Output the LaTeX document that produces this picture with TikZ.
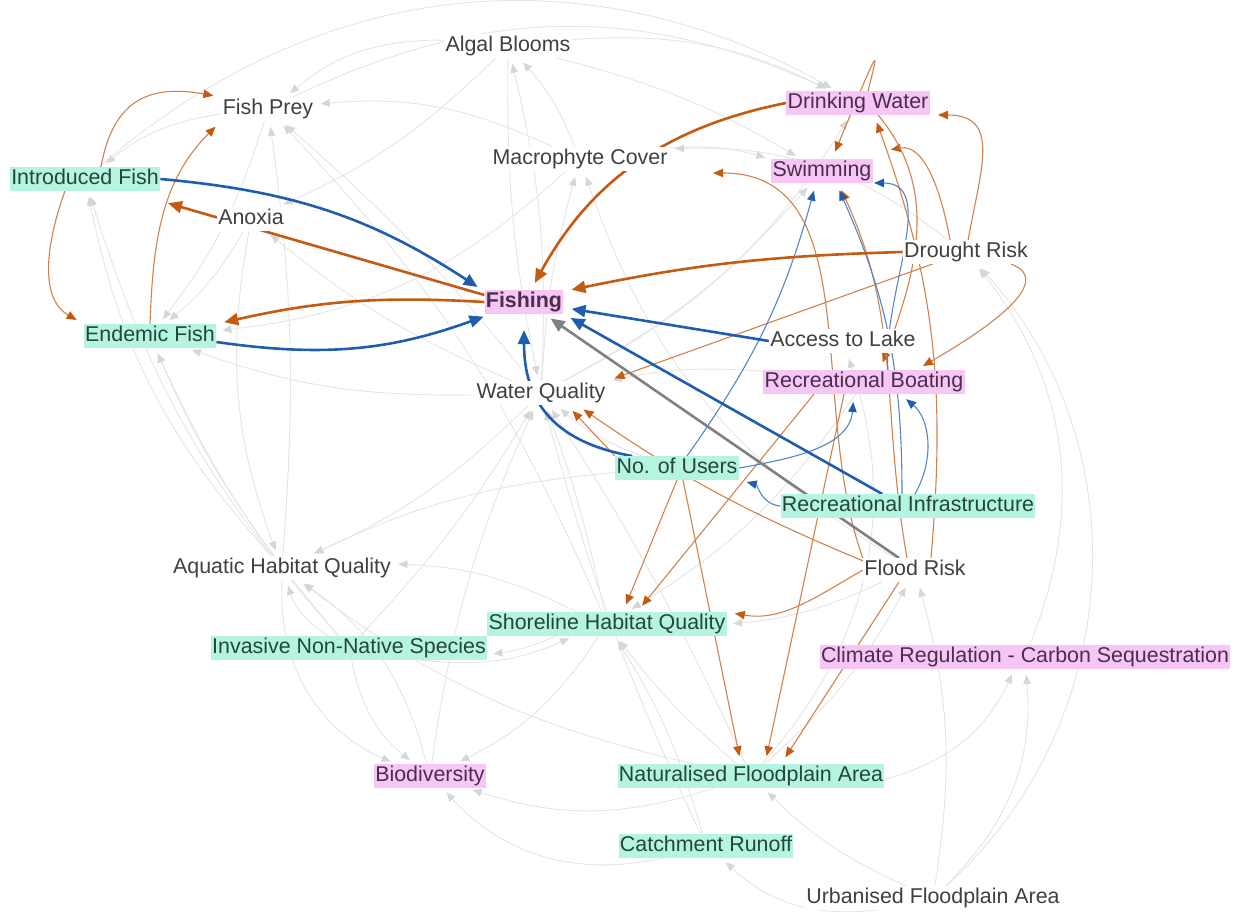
\documentclass[tikz,border=0pt]{standalone}
\usepackage{fontspec}
\setmainfont{Liberation Sans}
\usetikzlibrary{arrows.meta,backgrounds}

\definecolor{svcpink}{HTML}{F8C6F6}
\definecolor{mgmtgreen}{HTML}{B4F4E0}
\definecolor{labelgray}{HTML}{404040}
\definecolor{svctext}{HTML}{4A2F4A}
\definecolor{mgmttext}{HTML}{24463C}
\definecolor{linkorange}{HTML}{C55A11}
\definecolor{thinorange}{HTML}{D0824C}
\definecolor{linkblue}{HTML}{1F5EAE}
\definecolor{thinblue}{HTML}{5286C6}
\definecolor{linkgray}{HTML}{808080}
\definecolor{faintgray}{HTML}{E5E5E5}
\definecolor{faintarrow}{HTML}{D6D6D6}

\newcommand{\lblfont}{\fontsize{10.7}{12}\selectfont}

\begin{document}
\begin{tikzpicture}[x=0.5pt, y=-0.5pt,
  plainlbl/.style={font=\lblfont, text=labelgray, fill=white, inner xsep=0.6pt, inner ysep=0.8pt, text height=7.8pt, text depth=2.2pt},
  svclbl/.style={plainlbl, fill=svcpink, text=svctext},
  mgmtlbl/.style={plainlbl, fill=mgmtgreen, text=mgmttext},
  faint/.style={draw=faintgray, line width=0.45pt, -{Triangle[length=4.5pt,width=3.8pt,color=faintarrow]}, shorten >=3pt},
  thinor/.style={draw=thinorange, line width=0.55pt, -{Triangle[length=5pt,width=4.2pt,color=linkorange]}, shorten >=4pt},
  thickor/.style={draw=linkorange, line width=1.3pt, -{Triangle[length=7pt,width=6pt]}, shorten >=4pt},
  thinbl/.style={draw=thinblue, line width=0.55pt, -{Triangle[length=5pt,width=4.2pt,color=linkblue]}, shorten >=4pt},
  thickbl/.style={draw=linkblue, line width=1.3pt, -{Triangle[length=7pt,width=6pt]}, shorten >=4pt},
  thickgr/.style={draw=linkgray, line width=1.3pt, -{Triangle[length=7pt,width=6pt]}, shorten >=4pt}]

\useasboundingbox (0,0) rectangle (1245,914);

% Factors
\node[plainlbl] (algal) at (508,46) {Algal Blooms};
\node[plainlbl] (prey) at (268,109) {Fish Prey};
\node[svclbl] (drink) at (858,103) {Drinking Water};
\node[mgmtlbl] (introfish) at (85,179) {Introduced Fish};
\node[plainlbl] (macro) at (580,159) {Macrophyte Cover};
\node[svclbl] (swim) at (822,171) {Swimming};
\node[plainlbl] (anoxia) at (251,219) {Anoxia};
\node[plainlbl] (drought) at (966,252) {Drought Risk};
\node[svclbl, font=\lblfont\bfseries] (fishing) at (524,302) {Fishing};
\node[mgmtlbl] (endfish) at (150,336) {Endemic Fish};
\node[plainlbl] (access) at (843,341) {Access to Lake};
\node[svclbl] (boating) at (864,382) {Recreational Boating};
\node[plainlbl] (wq) at (541,393) {Water Quality};
\node[mgmtlbl] (users) at (677,468) {No. of Users};
\node[mgmtlbl] (infra) at (908,506) {Recreational Infrastructure};
\node[plainlbl] (aquatic) at (282,568) {Aquatic Habitat Quality};
\node[plainlbl] (flood) at (915,570) {Flood Risk};
\node[mgmtlbl] (shore) at (607,624) {Shoreline Habitat Quality};
\node[mgmtlbl] (invasive) at (349,648) {Invasive Non-Native Species};
\node[svclbl] (climate) at (1025,657) {Climate Regulation - Carbon Sequestration};
\node[svclbl] (biodiv) at (430,776) {Biodiversity};
\node[mgmtlbl] (natfp) at (751,776) {Naturalised Floodplain Area};
\node[mgmtlbl] (runoff) at (706,846) {Catchment Runoff};
\node[plainlbl] (urban) at (933,898) {Urbanised Floodplain Area};

\begin{scope}[on background layer]
% Background links
\draw[faint] (runoff) to[bend left=5] (wq);
\draw[faint] (runoff) to[bend right=8] (shore);
\draw[faint] (runoff) to[bend left=30] (biodiv);
\draw[faint] (urban) to[bend left=10] (natfp);
\draw[faint] (urban) to[bend left=25] (runoff);
\draw[faint] (urban) to[bend right=25] (climate);
\draw[faint] (urban) to[bend right=12] (flood);
\draw[faint] (urban) to[bend right=45] (drought);
\draw[faint] (natfp) to[bend right=10] (flood);
\draw[faint] (natfp) to[bend left=6] (shore);
\draw[faint] (natfp) to[bend right=4] (wq);
\draw[faint] (natfp) to[bend left=12] (aquatic);
\draw[faint] (natfp) to[bend left=18] (biodiv);
\draw[faint] (natfp) to[bend right=25] (climate);
\draw[faint] (natfp) to[bend right=30] (access);
\draw[faint] (shore) to[bend right=4] (wq);
\draw[faint] (shore) to[bend right=12] (aquatic);
\draw[faint] (shore) to[bend left=15] (biodiv);
\draw[faint] (shore) to[bend left=8] (invasive);
\draw[faint] (shore) to[bend right=10] (prey);
\draw[faint] (invasive) to[bend left=20] (aquatic);
\draw[faint] (invasive) to[bend right=20] (biodiv);
\draw[faint] (invasive) to[bend left=8] (endfish);
\draw[faint] (invasive) to[bend left=12] (introfish);
\draw[faint] (invasive) to[bend right=15] (shore);
\draw[faint] (invasive) to[bend right=6] (wq);
\draw[faint] (aquatic) to[bend left=6] (endfish);
\draw[faint] (aquatic) to[bend left=15] (introfish);
\draw[faint] (aquatic) to[bend right=35] (biodiv);
\draw[faint] (aquatic) to[bend right=6] (prey);
\draw[faint] (biodiv) to[bend right=20] (aquatic);
\draw[faint] (biodiv) to[bend left=8] (wq);
\draw[faint] (wq) to[bend left=10] (aquatic);
\draw[faint] (wq) to[bend right=8] (algal);
\draw[faint] (wq) to[bend left=6] (macro);
\draw[faint] (wq) to[bend right=5] (prey);
\draw[faint] (wq) to[bend left=8] (anoxia);
\draw[faint] (wq) to[bend right=10] (swim);
\draw[faint] (wq) to[bend right=15] (drink);
\draw[faint] (wq) to[bend left=10] (endfish);
\draw[faint] (algal) to[bend right=6] (wq);
\draw[faint] (algal) to[bend left=10] (anoxia);
\draw[faint] (algal) to[bend left=15] (drink);
\draw[faint] (algal) to[bend left=8] (swim);
\draw[faint] (algal) to[bend right=20] (prey);
\draw[faint] (macro) to[bend right=10] (algal);
\draw[faint] (macro) to[bend right=15] (prey);
\draw[faint] (macro) to[bend left=18] (endfish);
\draw[faint] (macro) to[bend left=10] (swim);
\draw[faint] (prey) to[bend right=15] (introfish);
\draw[faint] (prey) to[bend left=10] (endfish);
\draw[faint] (prey) to[bend left=25] (drink);
\draw[faint] (anoxia) to[bend left=10] (endfish);
\draw[faint] (anoxia) to[bend right=15] (aquatic);
\draw[faint] (users) to[bend left=10] (wq);
\draw[faint] (users) to[bend right=10] (aquatic);
\draw[faint] (boating) to[bend right=8] (wq);
\draw[faint] (boating) to[bend left=12] (shore);
\draw[faint] (climate) to[bend right=30] (drought);
\draw[faint] (flood) to[bend left=10] (shore);
\draw[faint] (flood) to[bend left=20] (macro);
\draw[faint] (drought) to[bend right=20] (macro);
\draw[faint] (introfish) to[bend left=35] (drink);

% Weak links
\draw[thinor] ([xshift=8pt]introfish.north) to[out=80, in=170, looseness=1.3] (prey.north west);
\draw[thinor] ([xshift=-10pt]introfish.south) to[out=250, in=150] (endfish.north west);
\draw[thinor] (endfish.north) to[out=88, in=225] (prey.south west);
\coordinate (spike) at (880,44);
\draw[thinor] ([xshift=5pt]drink.north) .. controls (spike) .. ([xshift=5pt]swim.north);
\draw[thinor] (drought.80) to[out=80, in=0, looseness=1.4] ([yshift=-6pt]drink.east);
\draw[thinor] ([xshift=-8pt]drought.north) to[out=100, in=10] ([xshift=5pt,yshift=4pt]swim.north east);
\draw[thinor] ([xshift=8pt]flood.north) to[out=85, in=290] ([xshift=8pt]drink.south);
\draw[thinor] ([xshift=10pt]drink.south) to[out=-50, in=70] ([xshift=8pt]boating.north);
\draw[thinor] (drought.-15) to[out=-20, in=30] ([xshift=26pt]boating.north);
\draw[thinor] ([xshift=15pt]drought.south west) -- (wq.north east);
\draw[thinor] (flood.north west) to[out=110, in=0] ([xshift=18pt,yshift=-7pt]macro.east);
\draw[thinor] ([xshift=-4pt]flood.north) to[out=100, in=-65] ([xshift=8pt]swim.south);
\draw[thinor] ([xshift=-25pt]boating.south) -- ([xshift=15pt]shore.north);
\draw[thinor] (users.south) -- ([xshift=8pt]shore.north);
\draw[thinor] ([xshift=3pt]users.south) -- ([xshift=-5pt]natfp.north);
\draw[thinor] ([xshift=-10pt]boating.south) -- ([xshift=7pt]natfp.north);
\draw[thinor] ([xshift=-8pt]flood.south) -- ([xshift=15pt]natfp.north);
\draw[thinor] (flood.west) to[out=210, in=-10] (shore.north east);
\draw[thinor] (users.north west) -- ([xshift=13pt]wq.south);
\draw[thinor] (flood.170) to[bend left=6] ([xshift=18pt]wq.south);
\draw[thinbl] ([xshift=5pt]users.north) to[bend right=10] ([xshift=-3pt]swim.south);
\draw[thinbl] ([xshift=-3pt]infra.north) to[bend right=12] ([xshift=7pt]swim.south);
\draw[thinbl] ([xshift=12pt]boating.north) to[out=95, in=0] ([xshift=22pt]swim.south);
\draw[thinbl] (users.east) to[out=10, in=265] ([xshift=-5pt]boating.south);
\draw[thinbl] (infra.60) to[out=60, in=-40] ([xshift=18pt]boating.south);
\draw[thinbl] (infra.west) to[out=175, in=-15] (users.south east);

% Links to fishing
\draw[thickbl] (introfish.east) to[bend left=14] (fishing.165);
\draw[thickor] (fishing.170) -- ([yshift=-5pt]introfish.south east);
\draw[thickor] (fishing.west) to[bend right=8] ([yshift=6pt]endfish.east);
\draw[thickbl] ([yshift=-3pt]endfish.east) to[bend right=14] (fishing.200);
\draw[thickor] (drink.west) to[bend right=25] (fishing.60);
\draw[thickor] (drought.west) to[bend right=5] (fishing.15);
\draw[thickbl] (access.west) -- (fishing.-8);
\draw[thickbl] (infra.155) -- (fishing.south east);
\draw[thickgr] ([xshift=-8pt]flood.north) -- ([xshift=10pt]fishing.south);
\draw[thickbl, shorten >=8pt] (users.165) to[out=170, in=270, looseness=1.2] (fishing.south);
\end{scope}

\end{tikzpicture}
\end{document}
